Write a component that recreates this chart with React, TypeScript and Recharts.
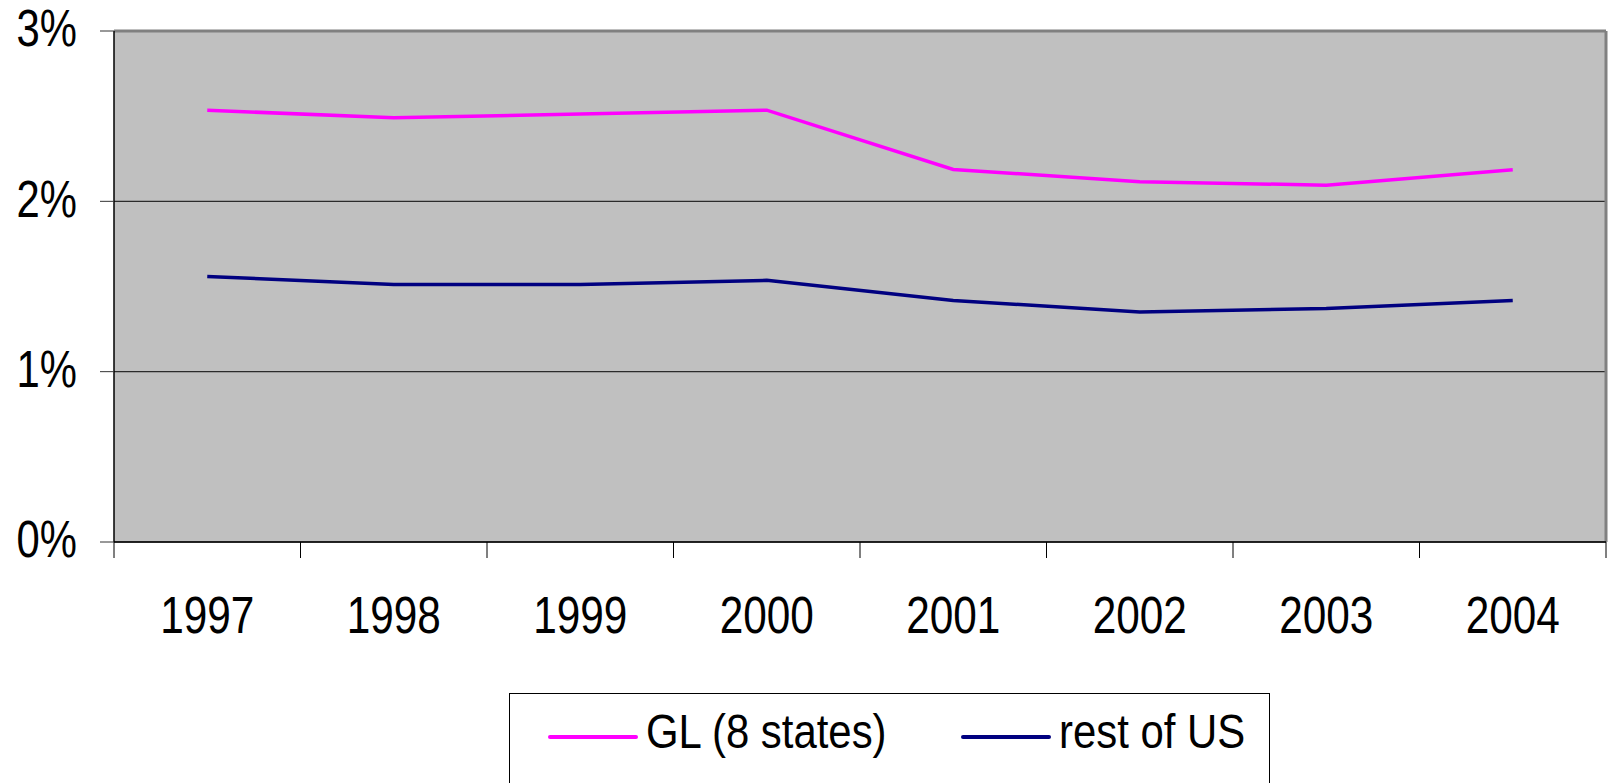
import {
  LineChart,
  Line,
  XAxis,
  YAxis,
  CartesianGrid,
  ReferenceLine,
  Legend,
} from "recharts";

const years = [1997, 1998, 1999, 2000, 2001, 2002, 2003, 2004];
const glStates = [2.535, 2.49, 2.513, 2.535, 2.187, 2.115, 2.095, 2.185];
const restOfUS = [1.559, 1.512, 1.512, 1.536, 1.418, 1.35, 1.371, 1.418];
const percentTicks = [0, 1, 2, 3];

const FONT = "'Liberation Sans', Arial, sans-serif";

const data = years.map((year, i) => ({
  year,
  gl: glStates[i],
  rest: restOfUS[i],
}));

// each year is a one-unit slot; tick marks go on the slot edges, like Excel
const xDomain = [years[0] - 0.5, years[years.length - 1] + 0.5];
const edgeTicks = [...years.map((y) => y - 0.5), years[years.length - 1] + 0.5];

function YearTick({ x, y, payload }: any) {
  return (
    <g transform={`translate(${x},${y}) scale(0.83,1)`}>
      <text x={0} y={0} dy="0.71em" textAnchor="middle" fill="#000" fontSize={51} fontFamily={FONT}>
        {String(payload.value)}
      </text>
    </g>
  );
}

function PercentTick({ x, y, payload }: any) {
  return (
    <g transform={`translate(${x},${y}) scale(0.82,1)`}>
      <text x={0} y={0} dy="0.3em" textAnchor="end" fill="#000" fontSize={51} fontFamily={FONT}>
        {`${payload.value}%`}
      </text>
    </g>
  );
}

function LegendBox({ payload }: any) {
  const items = payload || [];
  const slots = [41, 454];
  return (
    <svg width={761} height={100} style={{ display: "block" }}>
      <rect x={0.5} y={0.5} width={760} height={120} fill="#fff" stroke="#000" strokeWidth={1} />
      {items.map((item: any, i: number) => {
        const x0 = slots[i] ?? 41 + i * 413;
        return (
          <g key={item.value}>
            <line x1={x0} x2={x0 + 86} y1={44} y2={44} stroke={item.color} strokeWidth={4} strokeLinecap="round" />
            <g transform={`translate(${x0 + 96},55) scale(0.855,1)`}>
              <text x={0} y={0} fill="#000" fontSize={49} fontFamily={FONT}>
                {item.value}
              </text>
            </g>
          </g>
        );
      })}
    </svg>
  );
}

export default function App() {
  return (
    <div style={{ position: "absolute", left: 0, top: 0, width: 1611, height: 783, background: "#fff", overflow: "hidden" }}>
      <LineChart
        width={1611}
        height={783}
        data={data}
        margin={{ top: 31, right: 5, left: 0, bottom: 0 }}
      >
        <CartesianGrid fill="#c0c0c0" fillOpacity={1} stroke="#2b2b2b" strokeWidth={1.2} vertical={false} />
        <XAxis
          xAxisId="years"
          dataKey="year"
          type="number"
          domain={xDomain}
          ticks={years}
          allowDataOverflow
          height={241}
          axisLine={false}
          tickLine={false}
          tickSize={6}
          tickMargin={49}
          tick={<YearTick />}
          interval={0}
        />
        {/* mirrored so it sits on the plot bottom; negative tickSize flips ticks back down */}
        <XAxis
          xAxisId="edges"
          dataKey="year"
          type="number"
          domain={xDomain}
          ticks={edgeTicks}
          tickFormatter={() => ""}
          mirror
          height={2}
          tickSize={-16}
          interval={0}
          axisLine={{ stroke: "#000", strokeWidth: 1.5 }}
          tickLine={{ stroke: "#000" }}
          allowDataOverflow
        />
        <YAxis
          domain={[0, 3]}
          ticks={percentTicks}
          width={114}
          tickSize={14}
          tickMargin={23}
          axisLine={{ stroke: "#000", strokeWidth: 1.5 }}
          tickLine={{ stroke: "#333" }}
          tick={<PercentTick />}
        />
        <ReferenceLine y={3} xAxisId="years" stroke="#808080" strokeWidth={3} ifOverflow="visible" />
        <ReferenceLine x={xDomain[1]} xAxisId="years" stroke="#808080" strokeWidth={3} ifOverflow="visible" />
        <Line
          xAxisId="years"
          type="linear"
          dataKey="gl"
          name="GL (8 states)"
          stroke="#ff00ff"
          strokeWidth={3.5}
          dot={false}
          isAnimationActive={false}
        />
        <Line
          xAxisId="years"
          type="linear"
          dataKey="rest"
          name="rest of US"
          stroke="#000080"
          strokeWidth={3.5}
          dot={false}
          isAnimationActive={false}
        />
        <Legend
          layout="horizontal"
          align="center"
          verticalAlign="middle"
          content={<LegendBox />}
          wrapperStyle={{ left: 509, top: 693, width: 761, height: 100, bottom: "auto", right: "auto" }}
        />
      </LineChart>
    </div>
  );
}
